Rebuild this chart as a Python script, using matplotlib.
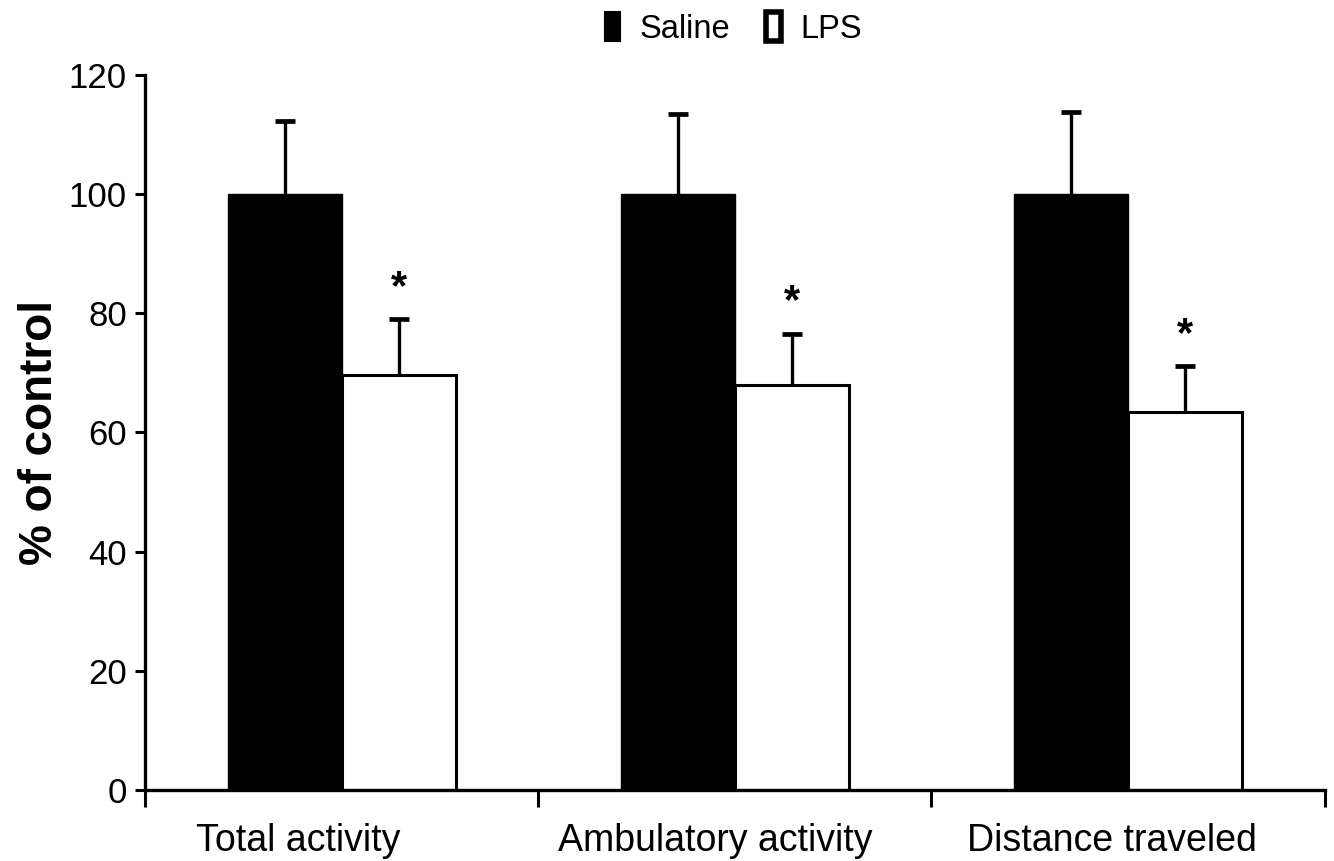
import numpy as np
import matplotlib
matplotlib.use("Agg")
import matplotlib.pyplot as plt
from matplotlib.patches import Patch

plt.rcParams['font.family'] = ['Liberation Sans', 'DejaVu Sans']

# open-field measures, percent of saline control (mean and SEM)
categories = ['Total activity', 'Ambulatory activity', 'Distance traveled']
saline_mean = np.array([100, 100, 100])
saline_sem = np.array([12.2, 13.4, 13.8])
lps_mean = np.array([69.7, 67.9, 63.4])
lps_sem = np.array([9.3, 8.7, 7.7])
significant = [True, True, True]

fig = plt.figure(figsize=(13.34, 8.61), dpi=100)
ax = fig.add_axes([0.1087, 0.0825, 0.8843, 0.8305])

x = np.arange(len(categories))
width = 0.29
xs = x + 0.5 - width / 2
xl = x + 0.5 + width / 2

ax.bar(xs, saline_mean, width, color='black', edgecolor='black', linewidth=1, zorder=2)
ax.bar(xl, lps_mean, width, color='white', edgecolor='black', linewidth=2.2, zorder=2)

# upper half of the error bars only
for pos, m, s in [(xs, saline_mean, saline_sem), (xl, lps_mean, lps_sem)]:
    ax.vlines(pos, m, m + s, color='black', linewidth=2.4, zorder=1)
    ax.plot(pos, m + s, linestyle='none', marker='_', markersize=15,
            markeredgewidth=3.4, color='black', zorder=1)

for xi, m, s, sig in zip(xl, lps_mean, lps_sem, significant):
    if sig:
        ax.text(xi, m + s + 5.2, '*', ha='center', va='center', fontsize=30,
                fontweight='bold')

ax.set_xlim(0, 3)
ax.set_ylim(0, 120)
ax.set_yticks(range(0, 121, 20))
ax.set_xticks([0, 1, 2, 3])
ax.set_xticklabels([])
# category labels sit a little left of the group centres
label_pos = [0.39, 1.45, 2.46]
ax.set_xticks(label_pos, minor=True)
ax.set_xticklabels(categories, minor=True, fontsize=27)
ax.tick_params(axis='x', which='major', length=12, width=2.2, direction='out')
ax.tick_params(axis='x', which='minor', length=0, pad=24)
ax.tick_params(axis='y', length=7, width=2.2, labelsize=25, pad=6)

for side in ['top', 'right']:
    ax.spines[side].set_visible(False)
for side in ['left', 'bottom']:
    ax.spines[side].set_linewidth(2.4)

ax.set_ylabel('% of control', fontsize=33, fontweight='bold', labelpad=5)

handles = [Patch(facecolor='black', edgecolor='black', linewidth=1.5),
           Patch(facecolor='white', edgecolor='black', linewidth=4)]
ax.legend(handles, ['Saline', 'LPS'], loc='center', bbox_to_anchor=(0.499, 1.065),
          ncol=2, frameon=False, fontsize=23.5, handlelength=0.45, handleheight=1.0,
          handletextpad=0.6, columnspacing=1.1)

fig.savefig('out.png', dpi=100, facecolor='white')
